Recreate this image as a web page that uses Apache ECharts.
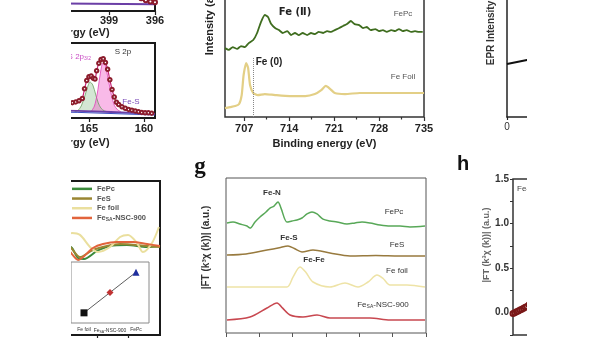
<!DOCTYPE html>
<html><head><meta charset="utf-8">
<script src="https://cdn.jsdelivr.net/npm/echarts@6/dist/echarts.min.js"></script>
<style>html,body{margin:0;padding:0;background:#fff}#c{width:600px;height:338px}</style>
</head><body><div id="c"></div>
<script>
// ---------- data ----------
const n1sTicks = [396, 399, 402, 405, 408];
const n1sLabels = [396, 399];
const n1sCircles = [[396.0,1.25],[396.3,1.35],[396.6,1.5],[396.9,1.8],[397.2,2.3],[397.5,3.0],[398.0,4.0],[399.0,6.0],[400.0,8.0],[401.0,9.0],[402.0,8.0],[403.0,6.0],[404.0,4.0],[405.0,3.0],[406.0,2.5],[408.0,2.2]];
const n1sBase = [[408.8,1.1],[402,1.05],[396,0.95]];

const s2pTicks = [160, 165, 170, 175];
const s2pCircles = [[170.0,2.3],[169.6,2.5],[169.2,2.6],[168.8,2.5],[168.4,2.3],[168.0,2.1],[167.6,2.0],[167.2,2.1],[166.8,2.0],[166.5,2.05],[166.2,2.15],[165.9,2.3],[165.6,2.6],[165.4,3.9],[165.2,5.0],[165.0,5.5],[164.8,5.6],[164.6,5.3],[164.45,5.2],[164.3,6.3],[164.1,7.3],[163.9,7.8],[163.7,7.9],[163.5,7.4],[163.3,6.5],[163.1,5.1],[162.9,3.8],[162.7,2.8],[162.5,2.1],[162.3,1.8],[162.0,1.5],[161.7,1.3],[161.4,1.15],[161.1,1.05],[160.8,0.95],[160.5,0.85],[160.2,0.75],[159.9,0.7],[159.6,0.7],[159.3,0.65]];
const s2pGreen = [[166.3,0.85],[166.0,1.0],[165.7,1.6],[165.4,2.8],[165.15,4.0],[164.9,4.8],[164.65,4.4],[164.4,3.2],[164.15,2.0],[163.9,1.3],[163.6,0.95],[163.3,0.85]];
const s2pPink = [[164.8,0.85],[164.5,1.6],[164.25,3.2],[164.0,5.6],[163.8,7.2],[163.65,7.4],[163.45,6.6],[163.2,4.8],[162.95,3.0],[162.7,1.7],[162.4,1.1],[162.1,0.85]];
const s2pBase = [[176.8,1.2],[166,0.95],[163,0.8],[159,0.55]];
const s2pBlue = [[176.8,1.0],[166,0.75],[159,0.4]];

const xanesNames = ['FePc','FeS','Fe foil','Fe_SA-NSC-900'];
const xanesTicks = [7120, 7140];
const xanesFePc = [[7100,0.95],[7103.8,0.904],[7107.7,0.80],[7111.5,0.79],[7119.8,0.873],[7128.1,0.925],[7138.9,0.935],[7151.7,0.914],[7160,0.925]];
const xanesFeS = [[7100,0.97],[7103.8,0.894],[7108.9,0.81],[7117.2,0.883],[7126.2,0.925],[7134.5,0.945],[7151.7,0.925],[7160,0.914]];
const xanesFoil = [[7100,1.0],[7103.8,1.06],[7108.9,1.04],[7115.3,0.915],[7120.4,0.862],[7128.1,0.914],[7134.5,1.018],[7139.6,1.039],[7145.3,0.956],[7149.1,0.862],[7154.9,0.956],[7159.3,1.122]];
const xanesFeSA = [[7100,0.92],[7103.8,0.84],[7107.7,0.78],[7117.2,0.904],[7123.6,0.945],[7132.5,0.966],[7142.8,0.966],[7151.7,0.945],[7160,0.925]];
const insetCats = ['Fe foil','Fe_SA-NSC-900','FePc'];
const insetVals = [0, 1, 2];

const xpsTicks = [707, 714, 721, 728, 735];
const xpsMinor = [710.5, 717.5, 724.5, 731.5];
const xpsFePc = [[704.0,3.33],[704.6,3.24],[705.2,3.38],[705.9,3.29],[706.5,3.43],[707.1,3.38],[707.7,3.57],[708.4,3.72],[709.0,4.06],[709.6,4.59],[710.2,4.93],[710.7,4.83],[711.2,4.49],[711.8,4.30],[712.4,4.20],[713.0,4.06],[713.7,4.15],[714.3,3.96],[714.9,4.06],[715.5,3.96],[716.1,4.06],[716.8,3.96],[717.4,4.06],[718.0,4.01],[718.6,4.11],[719.3,4.06],[719.9,4.15],[720.5,4.11],[721.1,4.20],[721.8,4.30],[722.4,4.40],[723.0,4.49],[723.6,4.64],[724.2,4.49],[724.9,4.44],[725.5,4.30],[726.1,4.35],[726.7,4.20],[727.4,4.25],[728.0,4.15],[728.6,4.20],[729.2,4.11],[729.9,4.20],[730.5,4.15],[731.1,4.25],[731.7,4.15],[732.3,4.20],[733.0,4.11],[733.6,4.15],[734.2,4.11],[734.8,4.11]];
const xpsFoil = [[704.0,0.43],[704.8,0.48],[705.6,0.53],[706.2,0.63],[706.6,1.06],[706.9,2.03],[707.3,2.61],[707.6,2.37],[707.9,1.55],[708.4,1.16],[709.1,1.06],[710.2,1.11],[711.8,1.06],[714.1,1.01],[716.5,1.01],[718.0,1.11],[719.0,1.30],[719.7,1.50],[720.4,1.35],[721.1,1.16],[722.7,1.11],[725.0,1.16],[728.1,1.16],[731.3,1.16],[735.0,1.16]];
const xpsFe0Line = 708.4;

const ftFePc = [[0.03,7.10],[0.21,7.16],[0.42,7.03],[0.63,6.90],[0.72,6.77],[0.87,7.16],[1.02,7.48],[1.20,7.81],[1.32,8.06],[1.44,8.19],[1.56,8.45],[1.65,8.06],[1.83,7.16],[1.98,7.23],[2.13,7.29],[2.28,7.42],[2.43,7.68],[2.58,7.81],[2.73,7.68],[2.91,7.35],[3.12,7.23],[3.33,7.16],[3.63,7.03],[3.87,7.10],[4.08,7.16],[4.32,7.10],[4.62,6.97],[4.92,6.90],[5.22,6.90],[5.52,6.84],[5.97,6.90]];
const ftFeS = [[0.03,5.03],[0.6,5.1],[1.23,5.35],[1.6,5.5],[1.86,5.61],[2.05,5.45],[2.28,5.23],[2.61,5.35],[3.12,5.16],[3.72,4.97],[4.5,5.0],[5.2,4.97],[5.97,4.97]];
const ftFoil = [[0.03,2.97],[0.9,2.97],[1.83,2.97],[2.01,3.61],[2.22,4.26],[2.4,3.9],[2.61,3.29],[3.12,2.97],[3.57,3.23],[3.96,2.97],[4.26,3.29],[4.53,3.74],[4.72,3.5],[4.92,3.10],[5.43,3.10],[5.97,2.97]];
const ftFeSA = [[0.03,0.84],[0.72,1.03],[1.23,1.61],[1.53,1.94],[1.7,1.6],[1.92,1.16],[2.31,1.03],[2.73,1.16],[3.12,0.97],[3.63,0.97],[4.32,0.97],[4.92,0.84],[5.97,0.84]];

const eprTicks = [0];
const eprData = [[0,3.15],[133,3.39],[300,3.6],[600,3.8]];

const hTicks = [0, 0.5, 1.0, 1.5];
const hMinor = [-0.25, 0, 0.25, 0.5, 0.75, 1.0, 1.25, 1.5];
const hData = [[0,-0.01],[0.035,0.0],[0.07,0.01],[0.105,0.02],[0.14,0.03],[0.175,0.04],[0.21,0.05],[0.245,0.06],[0.28,0.07],[0.32,0.09],[0.4,0.13]];

// ---------- chart ----------
const FONT = 'Liberation Sans, Arial, Helvetica, sans-serif';
const chart = echarts.init(document.getElementById('c'));

function grid(left, top, width, height, border, bw, extra) {
  return Object.assign({left, top, width, height, show: true, borderColor: border, borderWidth: bw,
    backgroundColor: 'transparent', containLabel: false, outerBoundsMode: 'none'}, extra || {});
}
function valX(gi, min, max, o) {
  return Object.assign({type: 'value', gridIndex: gi, min, max, splitLine: {show: false},
    axisLine: {show: false}, axisTick: {show: false}, axisLabel: {show: false}}, o || {});
}
function valY(gi, min, max, o) {
  return Object.assign({type: 'value', gridIndex: gi, min, max, splitLine: {show: false},
    axisLine: {show: false}, axisTick: {show: false}, axisLabel: {show: false}}, o || {});
}
const tickLbl = (vals, size, margin) => ({show: true, customValues: vals, fontFamily: FONT, fontSize: size, fontWeight: 'bold', color: '#222', margin: margin});
const tick = (vals, len, col) => ({show: true, customValues: vals, inside: false, length: len, lineStyle: {color: col || '#222', width: 1.2}});
const nameStyle = (size, col, extra) => Object.assign({fontFamily: FONT, fontSize: size, fontWeight: 'bold', color: col || '#222'}, extra || {});
const line = (name, xi, data, color, w, extra) => Object.assign({name, type: 'line', xAxisIndex: xi, yAxisIndex: xi, data,
  showSymbol: false, symbol: 'none', smooth: 0.3, lineStyle: {color, width: w}, itemStyle: {color}, silent: true, animation: false}, extra || {});

const option = {
  animation: false,
  backgroundColor: '#fff',
  textStyle: {fontFamily: FONT},
  grid: [
    grid(-41, -60, 196, 71, '#1a1a1a', 2),          // 0 N1s
    grid(-41, 43, 196, 75, '#1a1a1a', 2),           // 1 S2p
    grid(66, 181, 94, 154, '#1a1a1a', 2),           // 2 XANES
    grid(71, 262, 78, 61, '#8a8a8a', 1, {backgroundColor: '#fff'}), // 3 inset
    grid(225, -81, 199, 198, '#333', 1.5),          // 4 XPS Fe 2p
    grid(226, 178, 200, 155, '#555', 1),            // 5 g
    grid(507, -51, 300, 168, '#222', 1.5, {show: false}), // 6 EPR
    grid(513, 179, 300, 156, '#333', 1.5)           // 7 h
  ],
  xAxis: [
    valX(0, 396, 408.8, {inverse: true, axisTick: tick(n1sTicks, 4), axisLabel: tickLbl(n1sLabels, 11, 4),
      name: 'Binding Energy (eV)', nameLocation: 'middle', nameGap: 16, nameTextStyle: nameStyle(11)}),
    valX(1, 159, 176.8, {inverse: true, axisTick: tick(s2pTicks, 4), axisLabel: tickLbl(s2pTicks, 11, 5),
      name: 'Binding Energy (eV)', nameLocation: 'middle', nameGap: 19, nameTextStyle: nameStyle(11)}),
    valX(2, 7100, 7160, {axisTick: tick(xanesTicks, 5), axisLabel: tickLbl(xanesTicks, 10, 6)}),
    {type: 'category', gridIndex: 3, data: insetCats, boundaryGap: true, splitLine: {show: false},
      axisLine: {show: false}, axisTick: {show: false},
      axisLabel: {show: true, interval: 0, fontSize: 5, color: '#333', fontFamily: FONT, margin: 4,
        formatter: v => v === 'Fe_SA-NSC-900' ? 'Fe{s|SA}-NSC-900' : v, rich: {s: {fontSize: 3.5, color: '#333', padding: [3,0,0,0]}}}},
    valX(4, 704, 735, {axisTick: tick(xpsTicks, 4, '#333'), axisLabel: tickLbl(xpsTicks, 11, 6),
      name: 'Binding energy (eV)', nameLocation: 'middle', nameGap: 20, nameTextStyle: nameStyle(11)}),
    valX(5, 0, 6, {interval: 1, axisTick: {show: true, inside: false, length: 4, lineStyle: {color: '#555'}}, axisLabel: {show: true, fontSize: 10, color: '#333', margin: 7}}),
    valX(6, 0, 2000, {axisLine: {show: true, lineStyle: {color: '#222', width: 1.5}}, axisTick: tick(eprTicks, 3),
      axisLabel: {show: true, customValues: eprTicks, fontFamily: FONT, fontSize: 10, color: '#333', margin: 5}}),
    valX(7, 0, 6, {axisTick: {show: false}}),
    valX(4, 704, 735, {position: 'bottom', axisTick: tick(xpsMinor, 2.5, '#333')})
  ],
  yAxis: [
    valY(0, 0, 10),
    valY(1, 0, 10),
    valY(2, 0, 1.6),
    valY(3, -0.5, 2.5),
    valY(4, 0, 9.57, {name: 'Intensity (a.u.)', nameLocation: 'middle', nameGap: 10, nameTextStyle: nameStyle(11)}),
    valY(5, 0, 10, {name: '|FT (k³χ (k))| (a.u.)', nameLocation: 'middle', nameGap: 15,
      nameTextStyle: nameStyle(10, '#333', {padding: [0, 0, 0, 16]})}),
    valY(6, 0, 10, {axisLine: {show: true, lineStyle: {color: '#222', width: 1.5}},
      name: 'EPR Intensity', nameLocation: 'middle', nameGap: 11, nameTextStyle: nameStyle(10, '#333')}),
    valY(7, -0.25, 1.5, {axisTick: {show: true, customValues: hMinor, inside: false, length: 3, lineStyle: {color: '#333'}},
      axisLabel: {show: true, customValues: hTicks, formatter: v => v.toFixed(1), fontFamily: FONT, fontSize: 10, fontWeight: 'bold', color: '#333', margin: 4},
      name: '|FT (k³χ (k))| (a.u.)', nameLocation: 'middle', nameGap: 22, nameTextStyle: nameStyle(9, '#666', {padding: [0, 0, 0, 24]})})
  ],
  legend: {
    data: xanesNames, left: 72, top: 184, orient: 'vertical', itemGap: 0, itemWidth: 20, itemHeight: 2.5,
    icon: 'rect', padding: 0, selectedMode: false,
    textStyle: {fontSize: 7.5, color: '#555', fontWeight: 'bold', fontFamily: FONT, lineHeight: 9.7,
      rich: {s: {fontSize: 5, color: '#555', fontWeight: 'bold', padding: [4, 0, 0, 0]}}},
    formatter: n => n === 'Fe_SA-NSC-900' ? 'Fe{s|SA}-NSC-900' : n
  },
  series: [
    // N1s
    line('n1s-base', 0, n1sBase, '#6b3fa6', 2, {smooth: false}),
    line('n1s-data', 0, n1sCircles, '#8c1c2c', 1, {symbol: 'emptyCircle', showSymbol: true, symbolSize: 4,
      itemStyle: {color: '#8c1c2c', borderColor: '#8c1c2c'}, lineStyle: {color: '#d8308a', width: 1}}),
    // S2p
    line('s2p-green', 1, s2pGreen, '#6aa060', 0.8, {areaStyle: {color: 'rgba(120,180,120,0.45)', origin: 0.8}}),
    line('s2p-pink', 1, s2pPink, '#e040b8', 0.8, {areaStyle: {color: 'rgba(240,90,200,0.6)', origin: 0.8}}),
    line('s2p-base', 1, s2pBase, '#6b3fa6', 1.8, {smooth: false}),
    line('s2p-blue', 1, s2pBlue, '#3a4cc0', 1, {smooth: false}),
    line('s2p-data', 1, s2pCircles, '#8c1c2c', 1, {symbol: 'emptyCircle', showSymbol: true, symbolSize: 3.5,
      itemStyle: {color: '#8c1c2c', borderColor: '#8c1c2c'}, lineStyle: {color: '#c8287a', width: 1.2}}),
    // XANES
    line('FePc', 2, xanesFePc, '#3b8a3b', 2),
    line('FeS', 2, xanesFeS, '#9a8632', 2),
    line('Fe foil', 2, xanesFoil, '#eadf9e', 2),
    line('Fe_SA-NSC-900', 2, xanesFeSA, '#e2643c', 2),
    // inset
    {name: 'inset', type: 'line', xAxisIndex: 3, yAxisIndex: 3, silent: true, animation: false, symbolSize: 7, z: 5,
      lineStyle: {color: '#333', width: 0.8},
      data: [
        {value: insetVals[0], symbol: 'rect', itemStyle: {color: '#111'}},
        {value: insetVals[1], symbol: 'diamond', itemStyle: {color: '#c03232'}},
        {value: insetVals[2], symbol: 'triangle', itemStyle: {color: '#1f2f9e'}}
      ]},
    // XPS Fe 2p
    line('xps-fepc', 4, xpsFePc, '#3f6d1f', 1.8, {smooth: 0.15}),
    line('xps-foil', 4, xpsFoil, '#e3cf86', 2.2, {smooth: 0.2,
      markLine: {silent: true, symbol: 'none', label: {show: false}, lineStyle: {color: '#888', type: 'dotted', width: 1},
        data: [[{coord: [xpsFe0Line, 0]}, {coord: [xpsFe0Line, 2.85]}]]}}),
    // g
    line('g-FePc', 5, ftFePc, '#58a858', 1.5),
    line('g-FeS', 5, ftFeS, '#987a3e', 1.5),
    line('g-foil', 5, ftFoil, '#eee3a6', 1.5),
    line('g-FeSA', 5, ftFeSA, '#c84850', 1.6),
    // EPR
    line('epr', 6, eprData, '#111', 2, {smooth: false}),
    // h
    line('h-fit', 7, hData, '#a02a2a', 3, {symbol: 'emptyCircle', showSymbol: true, symbolSize: 5,
      itemStyle: {color: '#7a1818', borderColor: '#5a1010'}})
  ],
  graphic: [
    {type: 'text', x: 200, y: 167, z: 50, style: {text: 'g', font: 'bold 23px Liberation Serif, Times New Roman, serif', fill: '#111', align: 'center', verticalAlign: 'middle'}},
    {type: 'text', x: 463, y: 164, z: 50, style: {text: 'h', font: 'bold 20px Liberation Sans, Arial, sans-serif', fill: '#111', align: 'center', verticalAlign: 'middle'}},
    {type: 'text', x: 295, y: 12, z: 50, style: {text: 'Fe (Ⅱ)', font: 'bold 10px DejaVu Sans, sans-serif', fill: '#222', align: 'center', verticalAlign: 'middle'}},
    {type: 'text', x: 403, y: 14, z: 50, style: {text: 'FePc', font: '8px Liberation Sans, Arial, sans-serif', fill: '#555', align: 'center', verticalAlign: 'middle'}},
    {type: 'text', x: 269, y: 62, z: 50, style: {text: 'Fe (0)', font: 'bold 10px Liberation Sans, Arial, sans-serif', fill: '#222', align: 'center', verticalAlign: 'middle'}},
    {type: 'text', x: 403, y: 77, z: 50, style: {text: 'Fe Foil', font: '8px Liberation Sans, Arial, sans-serif', fill: '#555', align: 'center', verticalAlign: 'middle'}},
    {type: 'text', x: 272, y: 193, z: 50, style: {text: 'Fe-N', font: 'bold 8px Liberation Sans, Arial, sans-serif', fill: '#333', align: 'center', verticalAlign: 'middle'}},
    {type: 'text', x: 394, y: 212, z: 50, style: {text: 'FePc', font: '8px Liberation Sans, Arial, sans-serif', fill: '#333', align: 'center', verticalAlign: 'middle'}},
    {type: 'text', x: 289, y: 238, z: 50, style: {text: 'Fe-S', font: 'bold 8px Liberation Sans, Arial, sans-serif', fill: '#333', align: 'center', verticalAlign: 'middle'}},
    {type: 'text', x: 397, y: 245, z: 50, style: {text: 'FeS', font: '8px Liberation Sans, Arial, sans-serif', fill: '#333', align: 'center', verticalAlign: 'middle'}},
    {type: 'text', x: 314, y: 260, z: 50, style: {text: 'Fe-Fe', font: 'bold 8px Liberation Sans, Arial, sans-serif', fill: '#333', align: 'center', verticalAlign: 'middle'}},
    {type: 'text', x: 397, y: 271, z: 50, style: {text: 'Fe foil', font: '8px Liberation Sans, Arial, sans-serif', fill: '#333', align: 'center', verticalAlign: 'middle'}},
    {type: 'text', x: 383, y: 305, z: 50, style: {text: 'Fe{s|SA}-NSC-900', font: '8px Liberation Sans, Arial, sans-serif', fill: '#333', align: 'center', verticalAlign: 'middle',
      rich: {s: {fontSize: 5, fill: '#333', padding: [4, 0, 0, 0]}}}},
    {type: 'text', x: 123, y: 52, z: 50, style: {text: 'S 2p', font: '8px Liberation Sans, Arial, sans-serif', fill: '#333', align: 'center', verticalAlign: 'middle'}},
    {type: 'text', x: 131, y: 102, z: 50, style: {text: 'Fe-S', font: '8px Liberation Sans, Arial, sans-serif', fill: '#7a4ab8', align: 'center', verticalAlign: 'middle'}},
    {type: 'text', x: 91, y: 57, z: 50, style: {text: 'S 2p{s|3/2}', font: '8px Liberation Sans, Arial, sans-serif', fill: '#c94cc4', align: 'right', verticalAlign: 'middle',
      rich: {s: {fontSize: 5, fill: '#c94cc4', padding: [4, 0, 0, 0]}}}},
    {type: 'text', x: 517, y: 189, z: 50, style: {text: 'Fe-N', font: '8px Liberation Sans, Arial, sans-serif', fill: '#444', align: 'left', verticalAlign: 'middle'}},
    // crop masks (the reference is a cut-out of a larger figure)
    {type: 'rect', z: 100, shape: {x: 0, y: 0, width: 71, height: 338}, style: {fill: '#fff'}},
    {type: 'rect', z: 100, shape: {x: 527, y: 0, width: 73, height: 338}, style: {fill: '#fff'}}
  ]
};
chart.setOption(option);
</script>
</body></html>
